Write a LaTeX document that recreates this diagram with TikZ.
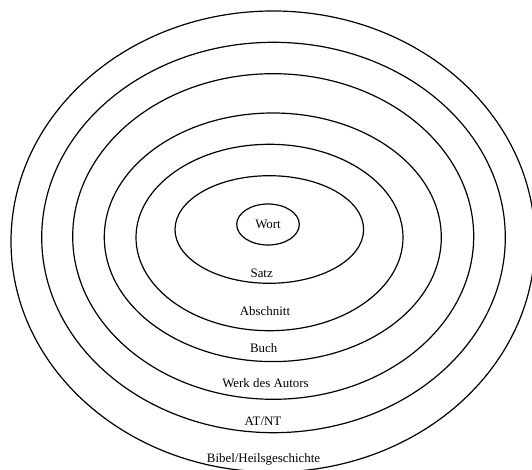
\documentclass[tikz,border=0pt]{standalone}
\usepackage{fontspec}
\setmainfont{Liberation Serif}
\usetikzlibrary{shapes.geometric}

\begin{document}
\begin{tikzpicture}[x=1pt,y=1pt]
\tikzset{
  ring/.style = { shape=ellipse, draw, line width=1.2pt, inner sep=0pt},
  ringlabel/.style = { anchor=base, inner sep=0pt,
                       font = \fontsize{12.9}{15}\selectfont},
}
\useasboundingbox (0,0) rectangle (532,470);
\clip (0,0) rectangle (532,470);

  % Ringe von aussen nach innen
  \node[ring, minimum width=524, minimum height=461] (bibel) at (273,228.5) {};
  \node[ring, minimum width=463.6, minimum height=390.4] (atnt) at (273.5,232.5) {};
  \node[ring, minimum width=401, minimum height=325.6] (werk) at (273.2,233.5) {};
  \node[ring, minimum width=337, minimum height=248.6] (buch) at (272.8,232.7) {};
  \node[ring, minimum width=267, minimum height=186.4] (abschnitt) at (269.5,232.5) {};
  \node[ring, minimum width=188.6, minimum height=107.6] (satz) at (269.3,240.5) {};

  \begin{scope}
    \tikzset{ring/.append style = {font = \fontsize{12.9}{15}\selectfont}}
    \node[ring, minimum width=62.6, minimum height=41] (wort) at (268,245.5) {Wort};
  \end{scope}

  % Beschriftungen
  \node[ringlabel] (satzlabel) at (261.7,192.4) {Satz};
  \node[ringlabel] (abschnittlabel) at (265,154) {Abschnitt};
  \node[ringlabel] (buchlabel) at (263.7,117.4) {Buch};
  \node[ringlabel] (werklabel) at (265.5,82.4) {Werk des Autors};
  \node[ringlabel] (atntlabel) at (263,44) {AT/NT};
  \node[ringlabel] (bibellabel) at (263.5,7.4) {Bibel/Heilsgeschichte};

\end{tikzpicture}
\end{document}
